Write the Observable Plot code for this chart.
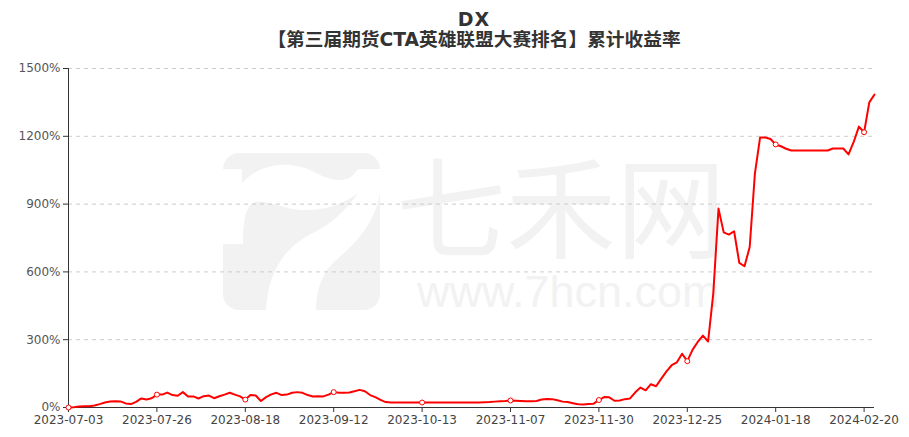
<!DOCTYPE html>
<html>
<head>
<meta charset="utf-8">
<script src="https://cdn.jsdelivr.net/npm/d3@7"></script>
<script src="https://cdn.jsdelivr.net/npm/@observablehq/plot@0.6"></script>
<style>
  html, body { margin: 0; padding: 0; background: #fff; }
  #wrap { position: relative; width: 909px; height: 437px; overflow: hidden; font-family: "DejaVu Sans", "Noto Sans CJK SC", sans-serif; }
  #titles { position: relative; height: 50px; z-index: 2; }
  .t { position: absolute; left: 474px; transform: translateX(-50%); white-space: nowrap; font-weight: bold; line-height: 22px; color: #333; font-family: "DejaVu Sans", "Noto Sans CJK SC", sans-serif; }
  #wm { position: absolute; left: 0; top: 0; width: 909px; height: 437px; z-index: 0; }
  #chart { position: relative; z-index: 1; }
</style>
</head>
<body>
<div id="wrap">
  <div id="wm">
    <svg width="909" height="437" style="position:absolute;left:0;top:0">
      <g transform="translate(223,153)">
        <rect x="0" y="0" width="157" height="157" rx="16" fill="#f2f2f2"></rect>
        <path fill="#ffffff" d="M0,16 L19,16 L19,30 C35,12 65,5 93,20 C108,28 123,30 130,22 L135,16 L157,16 L157,40 C150,80 120,100 110,110 C98,122 93,140 93,157 L43,157 C45,120 60,95 90,80 C110,70 125,55 135,40 C120,52 100,58 77,57 C55,55 40,45 30,50 C22,55 20,70 20,91 L0,91 Z"></path>
      </g>
      <text x="396" y="250" font-size="110" fill="#f2f2f2" font-family="Noto Sans CJK SC">七禾网</text>
      <text x="417" y="307" font-size="45" fill="#f2f2f2" font-family="Liberation Sans">www.7hcn.com</text>
    </svg>
  </div>
  <div id="titles">
    <div class="t" style="top:8px;font-size:19px;letter-spacing:1px">DX</div>
    <div class="t" style="top:29px;font-size:18.7px">【第三届期货CTA英雄联盟大赛排名】累计收益率</div>
  </div>
  <div id="chart"></div>
</div>
<script>
// Category tick labels (trading days) and their positions in the series
const tickDates = ["2023-07-03","2023-07-26","2023-08-18","2023-09-12","2023-10-13","2023-11-07","2023-11-30","2023-12-25","2024-01-18","2024-02-20"];
const tickIndex = [0,17,34,51,68,85,102,119,136,153];
const yTicks = [0,300,600,900,1200,1500];

// Cumulative return (%) per trading day
const returns = [
  0,1,4,6,6,9,15,22,27,28,
  27,18,15,25,40,35,41,57,57,66,
  55,52,68,49,49,40,50,53,41,50,
  57,65,57,49,35,55,53,29,46,58,
  65,55,57,65,68,65,55,49,50,49,
  57,68,65,65,66,72,78,72,55,46,
  34,24,22,22,22,22,22,22,22,22,
  22,22,22,22,22,22,22,22,22,22,
  23,24,26,28,29,31,30,29,28,28,
  29,35,38,37,32,26,24,19,14,13,
  16,17,33,46,45,30,31,37,40,67,
  88,76,103,94,128,160,187,200,238,205,
  255,290,318,292,505,880,775,765,780,640,
  625,710,1035,1195,1195,1188,1164,1156,1145,1137,
  1137,1137,1137,1137,1137,1137,1137,1146,1146,1146,
  1120,1175,1243,1218,1350,1385
];

const data = returns.map((v, i) => ({i, v}));
const marked = data.filter(d => tickIndex.includes(d.i));

const chart = Plot.plot({
  width: 909,
  height: 387,
  marginTop: 18,
  marginBottom: 30,
  marginLeft: 68,
  marginRight: 35,
  style: {background: "transparent", fontSize: "12px", fontFamily: "DejaVu Sans, sans-serif", overflow: "visible"},
  x: {domain: [0, returns.length - 1]},
  y: {domain: [0, 1500]},
  marks: [
    Plot.gridY(yTicks.filter(d => d > 0), {stroke: "#cccccc", strokeOpacity: 1, strokeDasharray: "4,4"}),
    Plot.axisY(yTicks, {tickFormat: d => d + "%", tickSize: 5, tickPadding: 3, stroke: "#333", fill: "#555", label: null}),
    Plot.axisX(tickIndex, {tickFormat: d => tickDates[tickIndex.indexOf(d)], tickSize: 5, tickPadding: 3, stroke: "#333", fill: "#444", label: null}),
    Plot.ruleX([0], {stroke: "#333"}),
    Plot.ruleY([0], {stroke: "#333"}),
    Plot.line(data, {x: "i", y: "v", stroke: "red", strokeWidth: 2}),
    Plot.dot(marked, {x: "i", y: "v", r: 2.5, fill: "white", stroke: "red", strokeWidth: 1})
  ]
});
document.getElementById("chart").appendChild(chart);
</script>
</body>
</html>
